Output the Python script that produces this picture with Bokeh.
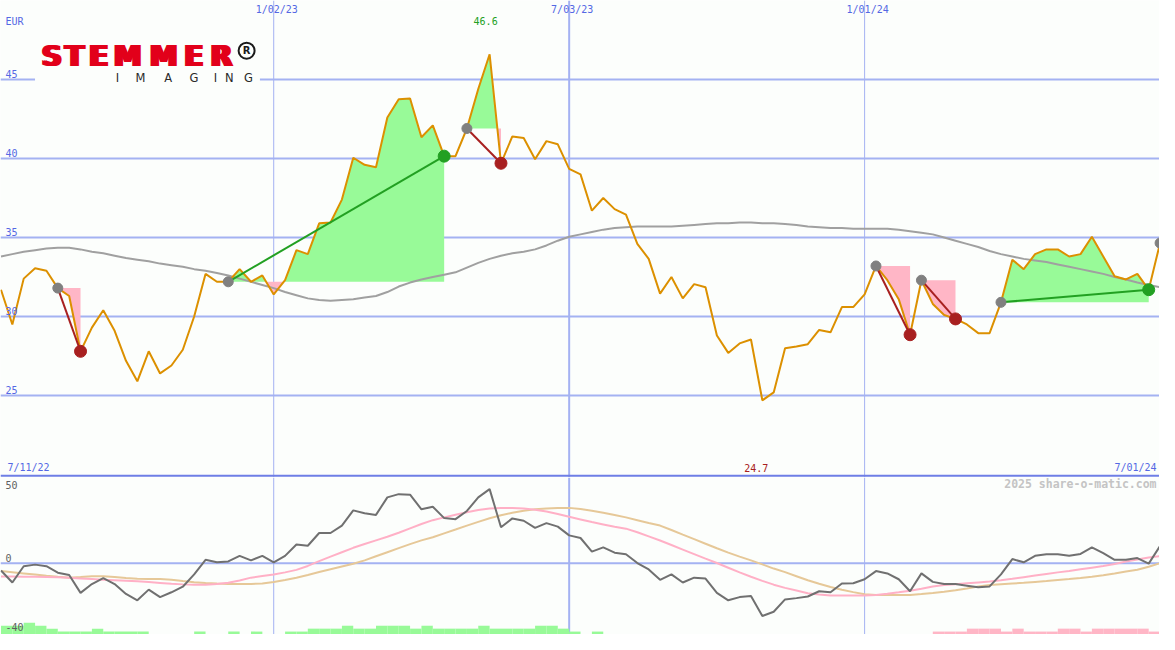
from bokeh.plotting import figure
from bokeh.layouts import column
from bokeh.models import Range1d, Span
from bokeh.embed import file_html
from bokeh.resources import INLINE
from bokeh.core.properties import value

# ---------------- data (weekly) ----------------
PRICE = [31.7, 29.5, 32.4, 33.05, 32.9, 31.8, 31.3, 27.8, 29.3, 30.4,
         29.1, 27.2, 25.9, 27.8, 26.4, 26.9, 27.9, 30.0, 32.7, 32.2,
         32.2, 33.0, 32.2, 32.6, 31.4, 32.3, 34.2, 33.95, 35.9, 35.95,
         37.4, 40.05, 39.6, 39.45, 42.6, 43.75, 43.8, 41.35, 42.1, 40.15,
         40.15, 41.9, 44.4, 46.6, 39.7, 41.4, 41.3, 39.95, 41.1, 40.9,
         39.35, 39.0, 36.7, 37.5, 36.8, 36.45, 34.6, 33.65, 31.45, 32.5,
         31.15, 32.05, 31.85, 28.8, 27.7, 28.3, 28.55, 24.7, 25.2, 28.0,
         28.1, 28.25, 29.15, 29.0, 30.6, 30.6, 31.4, 33.2, 32.3, 31.1,
         28.85, 32.3, 30.8, 30.1, 29.85, 29.5, 28.95, 28.95, 30.9, 33.6,
         33.0, 33.95, 34.25, 34.25, 33.8, 33.95, 35.05, 33.8, 32.55, 32.35,
         32.7, 31.7, 34.65]

MA = [33.8, 33.95, 34.1, 34.2, 34.3, 34.35, 34.35, 34.25, 34.1, 34.0,
      33.85, 33.7, 33.6, 33.5, 33.35, 33.25, 33.15, 33.0, 32.9, 32.75,
      32.6, 32.4, 32.2, 32.0, 31.8, 31.55, 31.35, 31.15, 31.05, 31.0,
      31.05, 31.1, 31.2, 31.3, 31.55, 31.9, 32.15, 32.35, 32.5, 32.65,
      32.8, 33.1, 33.4, 33.65, 33.85, 34.0, 34.1, 34.25, 34.5, 34.8,
      35.05, 35.2, 35.35, 35.5, 35.6, 35.65, 35.7, 35.7, 35.7, 35.7,
      35.75, 35.8, 35.85, 35.9, 35.9, 35.95, 35.95, 35.9, 35.9, 35.85,
      35.8, 35.7, 35.65, 35.6, 35.6, 35.55, 35.55, 35.55, 35.55, 35.5,
      35.4, 35.3, 35.2, 35.0, 34.8, 34.6, 34.4, 34.15, 33.95, 33.8,
      33.65, 33.55, 33.45, 33.3, 33.15, 33.0, 32.85, 32.7, 32.5, 32.35,
      32.15, 32.0, 31.85]

OSC = [-4.9, -13.1, -2.0, -0.9, -2.0, -6.4, -8.0, -20.2, -14.2, -10.2,
       -14.2, -20.9, -25.3, -18.0, -23.1, -19.8, -16.0, -7.6, 2.4, 0.7,
       1.3, 5.1, 2.0, 5.1, 0.7, 5.1, 12.9, 12.0, 20.7, 20.7,
       25.8, 36.2, 34.2, 33.1, 45.1, 47.3, 46.9, 36.9, 38.7, 30.9,
       30.2, 35.8, 45.1, 50.7, 24.7, 30.7, 29.1, 24.2, 27.5, 25.1,
       19.1, 17.3, 8.0, 10.9, 7.3, 6.2, 0.2, -4.2, -11.3, -7.6,
       -13.1, -9.8, -10.4, -20.2, -25.3, -23.1, -22.4, -36.0, -33.1, -24.7,
       -23.8, -22.7, -19.1, -19.8, -13.8, -13.6, -10.9, -5.3, -6.9, -10.9,
       -19.1, -6.9, -12.7, -14.2, -14.2, -15.3, -16.4, -15.8, -7.6, 2.9,
       0.7, 5.1, 6.2, 6.2, 5.1, 6.4, 10.9, 6.9, 2.4, 2.4,
       3.6, -0.2, 11.8]

OSC_FAST = [-9.1, -9.1, -9.2, -9.2, -9.3, -9.5, -9.8, -10.3, -10.8, -11.3,
            -11.6, -11.9, -12.2, -12.8, -13.4, -14.0, -14.4, -14.7, -14.6, -14.1,
            -13.3, -11.8, -9.8, -8.7, -7.6, -6.2, -4.5, -1.8, 1.5, 4.6,
            7.6, 10.6, 13.2, 15.7, 18.2, 20.9, 23.9, 26.9, 29.5, 31.4,
            33.2, 34.9, 36.4, 37.5, 37.9, 37.9, 37.5, 36.6, 35.4, 33.7,
            31.8, 30.0, 28.2, 26.6, 25.0, 23.7, 21.2, 18.4, 15.6, 12.5,
            9.4, 6.3, 3.2, 0.2, -3.0, -6.2, -9.2, -12.0, -14.6, -16.8,
            -18.6, -20.4, -21.4, -22.0, -22.0, -22.0, -22.0, -21.6, -20.8, -19.8,
            -18.7, -17.4, -15.9, -14.9, -14.3, -13.7, -13.1, -12.5, -11.6, -10.6,
            -9.5, -8.4, -7.3, -6.2, -5.2, -4.1, -3.0, -1.9, -0.4, 1.2,
            2.6, 3.9, 5.0]

OSC_SLOW = [-5.3, -6.1, -6.9, -7.7, -8.5, -9.2, -9.8, -9.4, -8.9, -8.8,
            -9.4, -10.1, -10.5, -10.7, -10.8, -11.2, -12.1, -12.9, -13.4, -13.8,
            -14.1, -14.2, -14.1, -13.8, -12.8, -11.4, -9.9, -8.0, -6.0, -4.1,
            -2.2, -0.3, 2.0, 4.8, 7.6, 10.4, 13.1, 15.7, 17.8, 20.5,
            23.1, 25.8, 28.3, 30.8, 32.8, 34.6, 36.0, 36.9, 37.5, 37.9,
            37.9, 37.1, 36.0, 34.6, 33.0, 31.4, 29.5, 27.6, 25.8, 22.8,
            19.6, 16.5, 13.4, 10.3, 7.3, 4.6, 2.0, -0.7, -3.6, -6.0,
            -8.8, -11.6, -14.0, -16.2, -18.1, -19.7, -21.2, -21.6, -21.7, -21.7,
            -21.6, -21.0, -20.3, -19.4, -18.4, -17.2, -15.8, -14.8, -14.3, -13.8,
            -13.3, -12.7, -12.1, -11.4, -10.8, -10.1, -9.2, -8.1, -6.9, -5.6,
            -4.4, -2.3, 0.1]

BARS = [3, 3, 4, 3, 2, 1, 1, 1, 2, 1,
        1, 1, 1, 0, 0, 0, 0, 1, 0, 0,
        1, 0, 1, 0, 0, 1, 1, 2, 2, 2,
        3, 2, 2, 3, 3, 3, 2, 3, 2, 2,
        2, 2, 3, 2, 2, 2, 2, 3, 3, 2,
        1, 0, 1, 0, 0, 0, 0, 0, 0, 0,
        0, 0, 0, 0, 0, 0, 0, 0, 0, 0,
        0, 0, 0, 0, 0, 0, 0, 0, 0, 0,
        0, 0, -1, -1, -1, -2, -2, -2, -1, -2,
        -1, -1, -1, -2, -2, -1, -2, -2, -2, -2,
        -2, -1, 0]

TRADE_ENTRY = [5, 20, 41, 77, 81, 88]
TRADE_EXIT = [7, 39, 44, 80, 84, 101]
OPEN_ENTRY = [102]

PRICE_TICKS = [45, 40, 35, 30, 25]
OSC_TICKS = [50, 0, -40]
DATE_IDX = [24, 50, 76]
DATE_LABELS = ["1/02/23", "7/03/23", "1/01/24"]
START_LABEL = "7/11/22"
END_LABEL = "7/01/24"
CURRENCY = "EUR"
WATERMARK = "2025 share-o-matic.com"

# ---------------- layout constants ----------------
W, H = 1159, 634
REF_W, REF_H = 1175, 650
TOP_REF_H = 489
HT = round(TOP_REF_H * H / REF_H)
HB = H - HT
X0, X1 = -0.043, 101.95
YT0, YT1 = 19.815, 50.0
YB0, YB1 = -48.67, 58.67

BG = "#fcfefc"
GRID = "#a4b2f2"
SEP = "#6e7ee6"
TICK = "#5468e4"
ORANGE = "#dc9000"
GREY_MA = "#a0a0a0"
GREEN_FILL = "#98fa98"
PINK_FILL = "#ffb6c6"
WIN = "#22a022"
LOSS = "#a82020"
MONO = "DejaVu Sans Mono"


def tx(rx):
    return X0 + rx / REF_W * (X1 - X0)


def ty_top(ry):
    return YT1 - ry / TOP_REF_H * (YT1 - YT0)


def ty_bot(ry):
    return YB1 - (ry - TOP_REF_H) / (REF_H - TOP_REF_H) * (YB1 - YB0)


def make_fig(h, y0, y1):
    p = figure(width=W, height=h, x_range=XR, y_range=Range1d(y0, y1),
               output_backend="svg", toolbar_location=None,
               x_axis_location=None, y_axis_location=None, min_border=0,
               background_fill_color=BG, border_fill_color=BG,
               outline_line_color=None)
    p.grid.visible = False
    return p


def put_text(p, xs, ys, texts, color, size="10px", font=MONO, align="left",
             style="normal", x_offset=0, y_offset=0):
    # ys are vertical centres of the text
    p.text(x=xs, y=ys, text=texts, text_color=color, text_font=value(font),
           text_font_size=size, text_align=align, text_baseline="middle",
           text_font_style=style, x_offset=x_offset, y_offset=y_offset)


XR = Range1d(X0, X1)
K = list(range(len(PRICE)))

# ================= top panel =================
top = make_fig(HT, YT0, YT1)

for t in PRICE_TICKS:
    top.add_layout(Span(location=t, dimension="width", line_color=GRID,
                        line_width=2, level="underlay"))
for i, k in enumerate(DATE_IDX):
    top.add_layout(Span(location=k, dimension="height", line_color=GRID,
                        line_width=2 if i == 1 else 1, level="underlay"))
top.add_layout(Span(location=ty_top(487.2), dimension="width", line_color=SEP,
                    line_width=2, level="underlay"))

# trade shading
for e, x in zip(TRADE_ENTRY, TRADE_EXIT):
    base = PRICE[e]
    xs, ys = [], []
    for k in range(e, x + 1):
        y = PRICE[k]
        if xs and (ys[-1] - base) * (y - base) < 0:
            t = (base - ys[-1]) / (y - ys[-1])
            xs.append(xs[-1] + t * (k - xs[-1]))
            ys.append(base)
        xs.append(k)
        ys.append(y)
    top.varea(x=xs, y1=[base] * len(xs), y2=[max(v, base) for v in ys],
              fill_color=GREEN_FILL)
    top.varea(x=xs, y1=[min(v, base) for v in ys], y2=[base] * len(xs),
              fill_color=PINK_FILL)

top.line(K, MA, line_color=GREY_MA, line_width=2)
top.line(K, PRICE, line_color=ORANGE, line_width=2)

win = [PRICE[x] >= PRICE[e] for e, x in zip(TRADE_ENTRY, TRADE_EXIT)]
top.segment(x0=TRADE_ENTRY, y0=[PRICE[e] for e in TRADE_ENTRY],
            x1=TRADE_EXIT, y1=[PRICE[x] for x in TRADE_EXIT],
            line_color=[WIN if w else LOSS for w in win], line_width=2)
ent = TRADE_ENTRY + OPEN_ENTRY
top.scatter(ent, [PRICE[e] for e in ent], size=10, fill_color="#808080",
            line_color="#808080")
top.scatter(TRADE_EXIT, [PRICE[x] for x in TRADE_EXIT], size=12,
            fill_color=[WIN if w else LOSS for w in win],
            line_color=[WIN if w else LOSS for w in win])

# logo (white box interrupts the 45 grid line)
top.quad(left=tx(35), right=tx(263), top=ty_top(36), bottom=ty_top(88),
         fill_color=BG, line_color=None)
logo_x = [52, 75, 99.5, 129, 165.5, 196, 224]
for dx in (-1.8, 0, 1.8):
    put_text(top, [tx(c) for c in logo_x], [ty_top(57)] * 7, list("STEMMER"),
             "#e2001a", size="28px", font="DejaVu Sans", align="center",
             style="bold", x_offset=dx)
top.scatter([tx(249.5)], [ty_top(51.5)], size=16, fill_color=None,
            line_color="#1a1a1a", line_width=2)
put_text(top, [tx(249.5)], [ty_top(51.5)], ["R"], "#1a1a1a", size="10px",
         font="DejaVu Sans", align="center", style="bold")
put_text(top, [tx(c) for c in [118.5, 142, 170, 196, 218, 232, 251.5]],
         [ty_top(79.3)] * 7, list("IMAGING"), "#2a2a2a", size="11.5px",
         font="DejaVu Sans", align="center")

# texts
put_text(top, [tx(5)], [ty_top(21.5)], [CURRENCY], TICK)
put_text(top, [tx(5)] * len(PRICE_TICKS), PRICE_TICKS,
         [str(t) for t in PRICE_TICKS], TICK, y_offset=-5.5)
put_text(top, DATE_IDX, [ty_top(9)] * 3, DATE_LABELS, TICK, align="center",
         x_offset=3)
put_text(top, [tx(7)], [ty_top(478.5)], [START_LABEL], TICK)
put_text(top, [tx(1172)], [ty_top(478.5)], [END_LABEL], TICK, align="right")
kmax = PRICE.index(max(PRICE))
kmin = PRICE.index(min(PRICE))
put_text(top, [kmax], [ty_top(21)], [f"{max(PRICE):.1f}"], WIN,
         align="center", x_offset=-4)
put_text(top, [kmin], [ty_top(479)], [f"{min(PRICE):.1f}"], LOSS,
         align="center", x_offset=-6)

# ================= bottom panel =================
bot = make_fig(HB, YB0, YB1)
bot.add_layout(Span(location=0, dimension="width", line_color=GRID,
                    line_width=2, level="underlay"))
for i, k in enumerate(DATE_IDX):
    bot.add_layout(Span(location=k, dimension="height", line_color=GRID,
                        line_width=2 if i == 1 else 1, level="underlay"))

unit = (YB1 - YB0) / (REF_H - TOP_REF_H) * 3.0   # 3 px per level
bk = [k for k, b in enumerate(BARS) if b != 0]
bot.quad(left=bk, right=[k + 1 for k in bk], bottom=YB0,
         top=[YB0 + abs(BARS[k]) * unit for k in bk],
         fill_color=[GREEN_FILL if BARS[k] > 0 else PINK_FILL for k in bk],
         line_color=None)

bot.line(K, OSC_SLOW, line_color="#e6c898", line_width=2)
bot.line(K, OSC_FAST, line_color="#ffb0c6", line_width=2)
bot.line(K, OSC, line_color="#707070", line_width=2)

# upper ticks sit just above their level, the lowest one sits on the bottom edge
put_text(bot, [tx(5)] * (len(OSC_TICKS) - 1), OSC_TICKS[:-1],
         [str(t) for t in OSC_TICKS[:-1]], "#606060", y_offset=-5.5)
put_text(bot, [tx(5)], [ty_bot(642)], [str(OSC_TICKS[-1])], "#606060")
put_text(bot, [tx(1172)], [ty_bot(496)], [WATERMARK], "#c4c4c4",
         size="11.5px", align="right", style="bold")

layout = column(top, bot, spacing=0)
open("out.html", "w").write(file_html(layout, INLINE))
